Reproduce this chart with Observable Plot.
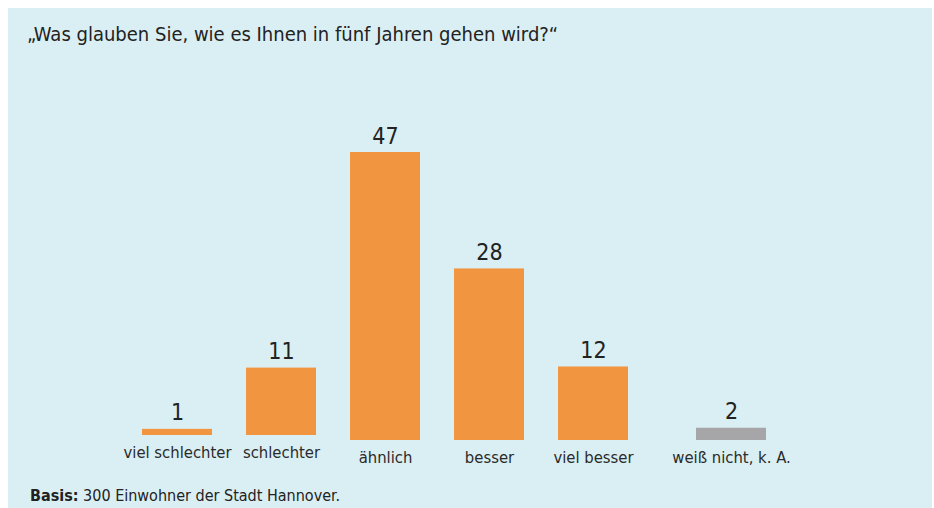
<!DOCTYPE html>
<html>
<head>
<meta charset="utf-8">
<script src="https://cdn.jsdelivr.net/npm/d3@7"></script>
<script src="https://cdn.jsdelivr.net/npm/@observablehq/plot@0.6"></script>
<style>
  html, body { margin: 0; padding: 0; background: #ffffff; }
  #page { position: relative; width: 934px; height: 508px; overflow: hidden; }
  #panel { position: absolute; left: 8px; top: 8px; width: 924px; height: 500px; background: #daeff3; }
  #title { position: absolute; left: 27px; top: 22px; font-family: "Liberation Sans Narrow", "DejaVu Sans Condensed", "Roboto", sans-serif; font-size: 20px; color: #222; white-space: nowrap; }
  #chart { position: absolute; left: 0; top: 60px; }
  #footer { position: absolute; left: 30px; top: 486px; font-family: "Liberation Sans Narrow", "DejaVu Sans Condensed", "Roboto", sans-serif; font-size: 16px; color: #222; white-space: nowrap; }
</style>
</head>
<body>
<div id="page">
  <div id="panel"></div>
  <div id="title">„Was glauben Sie, wie es Ihnen in fünf Jahren gehen wird?“</div>
  <div id="chart"></div>
  <div id="footer"><b>Basis:</b> 300 Einwohner der Stadt Hannover.</div>
</div>
<script>
const categories = ["viel schlechter", "schlechter", "ähnlich", "besser", "viel besser", "weiß nicht, k. A."];
const values = [1, 11, 47, 28, 12, 2];
const groups = ["low", "low", "mid", "mid", "mid", "none"];

const data = categories.map((c, i) => ({category: c, value: values[i], group: groups[i]}));
const low = data.filter(d => d.group === "low");
const mid = data.filter(d => d.group === "mid");
const none = data.filter(d => d.group === "none");

const fontFamily = '"Liberation Sans Narrow", "DejaVu Sans Condensed", Roboto, sans-serif';
const orange = "#f29541";
const grey = "#a6a6a8";

const barOpts = {x: "category", y: "value", insetLeft: 0, insetRight: 0};
const valOpts = {x: "category", y: "value", text: d => String(d.value), lineAnchor: "bottom", dy: -9, fontSize: 23, fill: "#222"};
const axOpts = {tickSize: 0, tickPadding: 11, fontSize: 16.5, fill: "#2a2a2a", label: null};

const chart = Plot.plot({
  width: 934,
  height: 420,
  marginTop: 92,
  marginBottom: 40,
  marginLeft: 90,
  marginRight: 150,
  style: {fontFamily, background: "transparent", color: "#222"},
  x: {domain: categories, paddingInner: 0.327, paddingOuter: 0.5, axis: null},
  y: {domain: [0, 47], axis: null},
  marks: [
    Plot.barY(low, {...barOpts, fill: orange, dy: -5}),
    Plot.barY(mid, {...barOpts, fill: orange}),
    Plot.barY(none, {...barOpts, fill: grey, dx: 34}),
    Plot.text(low, {...valOpts, dy: -14}),
    Plot.text(mid, valOpts),
    Plot.text(none, {...valOpts, dx: 34}),
    Plot.axisX(low.map(d => d.category), {...axOpts, dy: -5}),
    Plot.axisX(mid.map(d => d.category), axOpts),
    Plot.axisX(none.map(d => d.category), {...axOpts, dx: 34})
  ]
});
document.getElementById("chart").appendChild(chart);
</script>
</body>
</html>
